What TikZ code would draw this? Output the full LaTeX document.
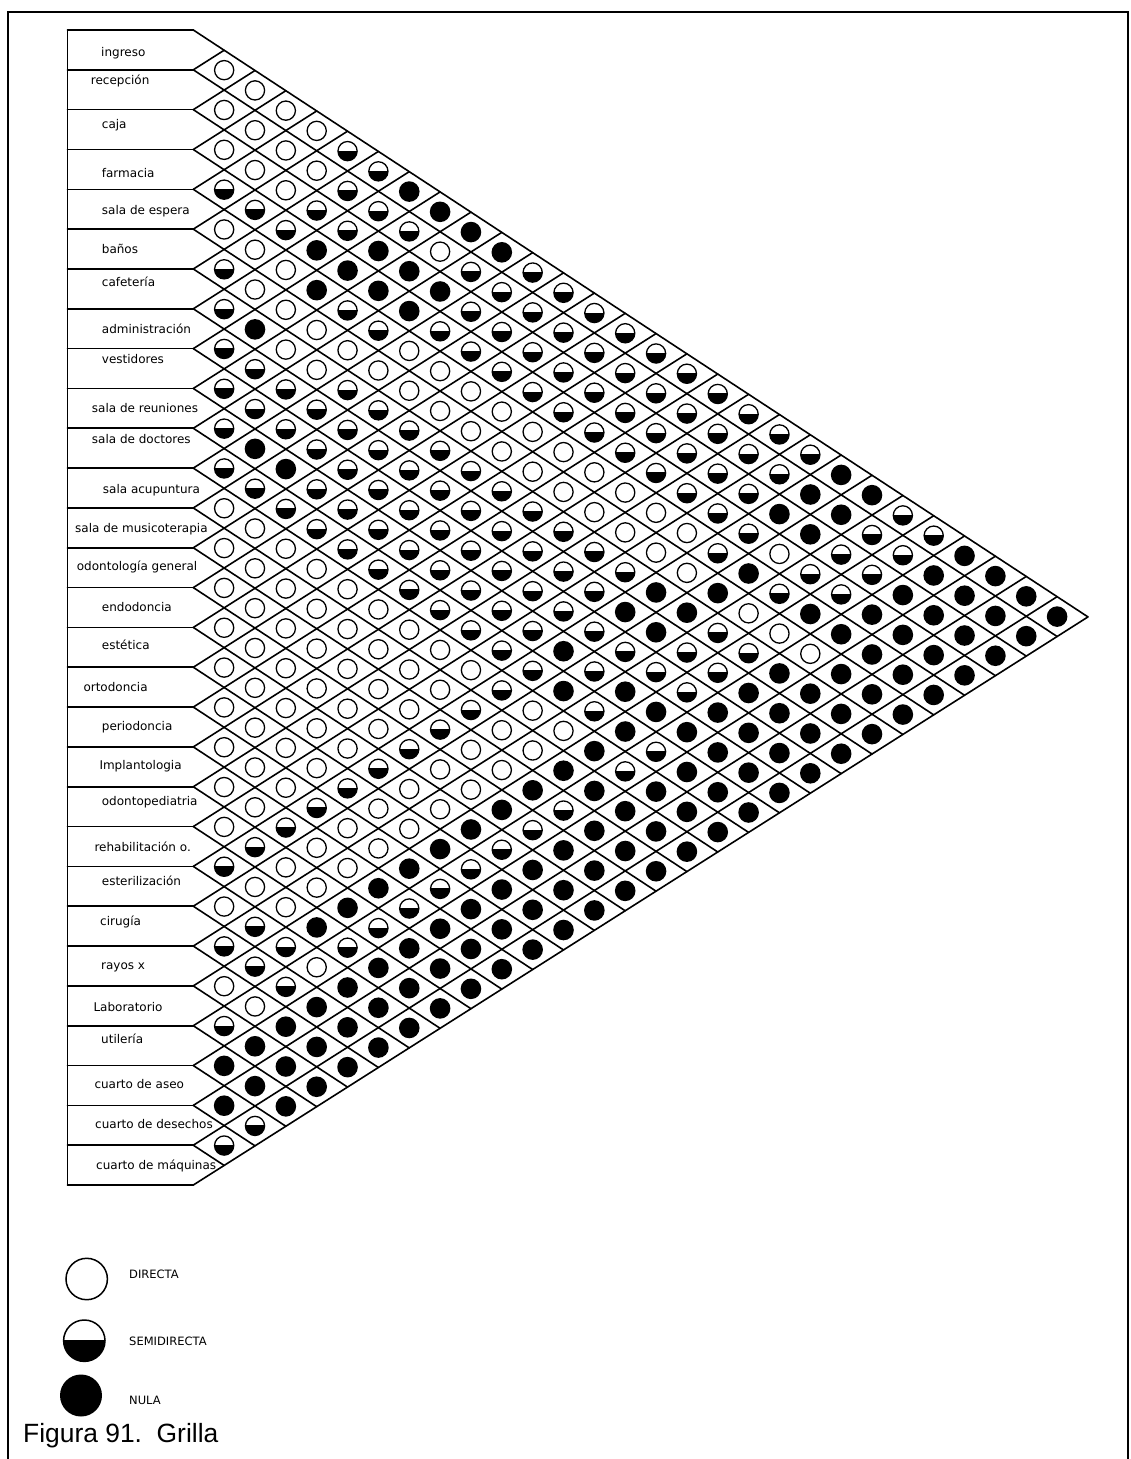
\documentclass[tikz,border=0pt]{standalone}
\usepackage{fontspec}
\setmainfont{DejaVu Sans}
\newfontfamily\capfont{Liberation Sans}
\tikzset{
  grid/.style={line width=1.6pt, line cap=round},
  cline/.style={line width=1.3pt},
  frameline/.style={line width=2.4pt},
  lab/.style={anchor=west, inner sep=0pt, text height=9pt, text depth=3pt, font=\fontsize{12}{14}\selectfont},
  legtxt/.style={anchor=west, inner sep=0pt, font=\fontsize{11.5}{13}\selectfont}
}
\newcommand\cellO[2]{\draw[cline] (#1,#2) circle (9.6);}
\newcommand\cellH[2]{\begin{scope}\clip (#1-12,#2) rectangle (#1+12,#2+12); \fill (#1,#2) circle (9.6);\end{scope}\draw[cline] (#1,#2) circle (9.6);}
\newcommand\cellF[2]{\fill (#1,#2) circle (10.3);}
\newcommand\diagrow[2]{%
  \foreach \t [count=\c] in {#2} {%
    \pgfmathsetmacro\kk{2-mod(#1,2)+2*(\c-1)}%
    \pgfmathsetmacro\cx{193.3+\kk*30.85}%
    \pgfmathsetmacro\cy{30+(#1-1)*19.914+0.324*\kk}%
    \csname cell\t\endcsname{\cx}{\cy}%
  }}
\begin{document}
\begin{tikzpicture}[x=1pt,y=-1pt]
\useasboundingbox (0,0) rectangle (1130,1459);
\fill[white] (0,0) rectangle (1130,1459);
% frame
\draw[frameline] (8,1459) -- (8,12) -- (1128,12) -- (1128,1459);
% grid lines
\foreach \n in {0,...,29} {
  \pgfmathsetmacro\yb{30+\n*39.828}
  \pgfmathsetmacro\td{(1185-\yb)/1.291}
  \pgfmathsetmacro\tu{(\yb-30)/1.291}
  \draw[grid] (67.5,\yb) -- (193.3,\yb);
  \draw[grid] (193.3,\yb) -- ++(\td,0.656*\td);
  \draw[grid] (193.3,\yb) -- ++(\tu,-0.635*\tu);
}
\draw[grid] (67.5,30) -- (67.5,1185);
% labels
\node[lab] (l1) at (101,53) {ingreso};
\node[lab] (l2) at (90.7,81.7) {recepción};
\node[lab] (l3) at (101.7,125) {caja};
\node[lab] (l4) at (101.7,174) {farmacia};
\node[lab] (l5) at (101.7,211.7) {sala de espera};
\node[lab] (l6) at (101.7,250) {baños};
\node[lab] (l7) at (101.7,283.3) {cafetería};
\node[lab] (l8) at (101.7,330) {administración};
\node[lab] (l9) at (101.7,360) {vestidores};
\node[lab] (l10) at (91.7,409) {sala de reuniones};
\node[lab] (l11) at (91.7,440) {sala de doctores};
\node[lab] (l12) at (102.7,490) {sala acupuntura};
\node[lab] (l13) at (75,529) {sala de musicoterapia};
\node[lab] (l14) at (76.7,567) {odontología general};
\node[lab] (l15) at (101.7,608) {endodoncia};
\node[lab] (l16) at (101.7,646) {estética};
\node[lab] (l17) at (83.3,688) {ortodoncia};
\node[lab] (l18) at (101.7,727) {periodoncia};
\node[lab] (l19) at (99.3,766) {Implantologia};
\node[lab] (l20) at (101.7,802) {odontopediatria};
\node[lab] (l21) at (94.3,848) {rehabilitación o.};
\node[lab] (l22) at (101.7,882) {esterilización};
\node[lab] (l23) at (100,922.7) {cirugía};
\node[lab] (l24) at (101,966) {rayos x};
\node[lab] (l25) at (93.3,1008.3) {Laboratorio};
\node[lab] (l26) at (101,1040.7) {utilería};
\node[lab] (l27) at (94.3,1085) {cuarto de aseo};
\node[lab] (l28) at (95,1125) {cuarto de desechos};
\node[lab] (l29) at (96,1166.7) {cuarto de máquinas};
% relationship marks, by anti-diagonal s = i+j
\diagrow{3}{O}
\diagrow{4}{O}
\diagrow{5}{O,O}
\diagrow{6}{O,O}
\diagrow{7}{O,O,H}
\diagrow{8}{O,O,H}
\diagrow{9}{H,O,H,F}
\diagrow{10}{H,H,H,F}
\diagrow{11}{O,H,H,H,F}
\diagrow{12}{O,F,F,O,F}
\diagrow{13}{H,O,F,F,H,H}
\diagrow{14}{O,F,F,F,H,H}
\diagrow{15}{H,O,H,F,H,H,H}
\diagrow{16}{F,O,H,H,H,H,H}
\diagrow{17}{H,O,O,O,H,H,H,H}
\diagrow{18}{H,O,O,O,H,H,H,H}
\diagrow{19}{H,H,H,O,O,H,H,H,H}
\diagrow{20}{H,H,H,O,O,H,H,H,H}
\diagrow{21}{H,H,H,H,O,O,H,H,H,H}
\diagrow{22}{F,H,H,H,O,O,H,H,H,H}
\diagrow{23}{H,F,H,H,H,O,O,H,H,H,F}
\diagrow{24}{H,H,H,H,H,O,O,H,H,F,F}
\diagrow{25}{O,H,H,H,H,H,O,O,H,F,F,H}
\diagrow{26}{O,H,H,H,H,H,O,O,H,F,H,H}
\diagrow{27}{O,O,H,H,H,H,H,O,H,O,H,H,F}
\diagrow{28}{O,O,H,H,H,H,H,O,F,H,H,F,F}
\diagrow{29}{O,O,O,H,H,H,H,F,F,H,H,F,F,F}
\diagrow{30}{O,O,O,H,H,H,F,F,O,F,F,F,F,F}
\diagrow{31}{O,O,O,O,H,H,H,F,H,O,F,F,F,F}
\diagrow{32}{O,O,O,O,H,F,H,H,H,O,F,F,F}
\diagrow{33}{O,O,O,O,O,H,H,H,H,F,F,F,F}
\diagrow{34}{O,O,O,O,H,F,F,H,F,F,F,F}
\diagrow{35}{O,O,O,O,H,O,H,F,F,F,F,F}
\diagrow{36}{O,O,O,H,O,O,F,F,F,F,F}
\diagrow{37}{O,O,O,H,O,O,F,H,F,F,F}
\diagrow{38}{O,O,H,O,O,F,H,F,F,F}
\diagrow{39}{O,O,H,O,O,F,F,F,F,F}
\diagrow{40}{O,H,O,O,F,H,F,F,F}
\diagrow{41}{O,H,O,O,F,H,F,F,F}
\diagrow{42}{H,O,O,F,H,F,F,F}
\diagrow{43}{H,O,O,F,H,F,F,F}
\diagrow{44}{O,O,F,H,F,F,F}
\diagrow{45}{O,O,F,H,F,F,F}
\diagrow{46}{H,F,H,F,F,F}
\diagrow{47}{H,H,H,F,F,F}
\diagrow{48}{H,O,F,F,F}
\diagrow{49}{O,H,F,F,F}
\diagrow{50}{O,F,F,F}
\diagrow{51}{H,F,F,F}
\diagrow{52}{F,F,F}
\diagrow{53}{F,F,F}
\diagrow{54}{F,F}
\diagrow{55}{F,F}
\diagrow{56}{H}
\diagrow{57}{H}
% legend
\draw[line width=1.5pt] (86.7,1279) circle (20.7);
\node[legtxt] (t1) at (129,1274) {DIRECTA};
\begin{scope}\clip (60,1340.7) rectangle (110,1365);\fill (84.3,1340.7) circle (20.7);\end{scope}
\draw[line width=1.5pt] (84.3,1340.7) circle (20.7);
\node[legtxt] (t2) at (129,1341.5) {SEMIDIRECTA};
\fill (81,1395.5) circle (21);
\node[legtxt] (t3) at (129,1400.5) {NULA};
% caption
\node[anchor=base west, inner sep=0pt, font=\capfont\fontsize{26.4}{30}\selectfont] (cap) at (23,1442) {Figura 91.\ \ Grilla};
\end{tikzpicture}
\end{document}
